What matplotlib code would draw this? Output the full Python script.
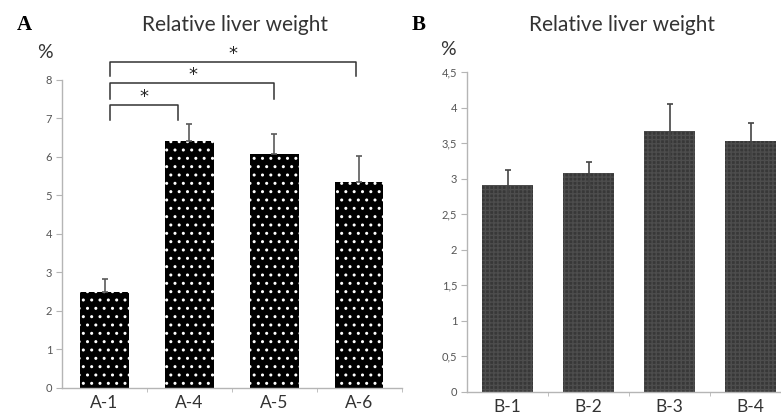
import matplotlib.pyplot as plt
import matplotlib.ticker as mticker

plt.rcParams['font.family'] = ['Lato', 'DejaVu Sans']
plt.rcParams['hatch.linewidth'] = 1.0

# panel A data
a_labels = ["A-1", "A-4", "A-5", "A-6"]
a_values = [2.50, 6.42, 6.08, 5.34]
a_errors = [0.33, 0.43, 0.51, 0.69]

# panel B data
b_labels = ["B-1", "B-2", "B-3", "B-4"]
b_values = [2.91, 3.08, 3.67, 3.53]
b_errors = [0.21, 0.16, 0.39, 0.25]

# significance brackets in panel A: (x start, x end, top, left leg end, right leg end)
brackets = [(0.07, 0.86, 7.35, 6.96, 6.96),
            (0.07, 2.00, 7.92, 7.51, 7.51),
            (0.07, 2.96, 8.47, 8.10, 8.10)]

fig = plt.figure(figsize=(7.81, 4.16), dpi=100)
axA = fig.add_axes([0.0794, 0.068, 0.4353, 0.7397])
axB = fig.add_axes([0.598, 0.0584, 0.4148, 0.7676])


def style_axis(ax, labels):
    for side in ["top", "right"]:
        ax.spines[side].set_visible(False)
    for side in ["left", "bottom"]:
        ax.spines[side].set_color("#b5b5b5")
        ax.spines[side].set_linewidth(1.0)
    ax.set_xlim(-0.5, 3.5)
    ax.set_xticks(range(len(labels)))
    ax.set_xticklabels(labels, fontsize=12.5, color="#333333")
    ax.xaxis.set_minor_locator(mticker.FixedLocator([0.5, 1.5, 2.5, 3.5]))
    ax.tick_params(axis="x", which="major", length=0, pad=5)
    ax.tick_params(axis="x", which="minor", length=3, color="#b5b5b5")
    ax.tick_params(axis="y", length=4, color="#b5b5b5", labelsize=8,
                   labelcolor="#555555", pad=3)


# panel A
x = range(len(a_labels))
axA.bar(x, a_values, width=0.565, color="black", edgecolor="white",
        linewidth=0, hatch="..")
axA.errorbar(x, a_values, yerr=[[0] * 4, a_errors], fmt="none",
             ecolor="#5a5a5a", elinewidth=1.2, capsize=2.5, capthick=1.2)
axA.set_ylim(0, 8)
axA.set_yticks(range(0, 9))
style_axis(axA, a_labels)

for x0, x1, top, l_end, r_end in brackets:
    axA.plot([x0, x0, x1, x1], [l_end, top, top, r_end], color="#333333",
             lw=1.1, clip_on=False)
    axA.text((x0 + x1) / 2, top + 0.2, "*", ha="center", va="center",
             fontsize=13, color="#222222", clip_on=False, family="DejaVu Sans")

# panel B
x = range(len(b_labels))
axB.bar(x, b_values, width=0.63, color="#383838", edgecolor="#4d4d4d",
        linewidth=0, hatch="++++")
axB.errorbar(x, b_values, yerr=b_errors, fmt="none", ecolor="#444444",
             elinewidth=1.2, capsize=2.5, capthick=1.2)
axB.set_ylim(0, 4.5)
axB.set_yticks([i * 0.5 for i in range(10)])
axB.yaxis.set_major_formatter(
    mticker.FuncFormatter(lambda v, p: ("%g" % v).replace(".", ",")))
style_axis(axB, b_labels)

# titles and labels
fig.text(0.301, 0.94, "Relative liver weight", ha="center", va="center",
         fontsize=15, color="#333333")
fig.text(0.796, 0.94, "Relative liver weight", ha="center", va="center",
         fontsize=15, color="#333333")
fig.text(0.031, 0.94, "A", ha="center", va="center", fontsize=15,
         fontweight="bold", family="Liberation Serif")
fig.text(0.536, 0.94, "B", ha="center", va="center", fontsize=15,
         fontweight="bold", family="Liberation Serif")
fig.text(0.058, 0.875, "%", ha="center", va="center", fontsize=14,
         color="#333333")
fig.text(0.573, 0.88, "%", ha="center", va="center", fontsize=14,
         color="#333333")

fig.savefig("out.png", dpi=100)
